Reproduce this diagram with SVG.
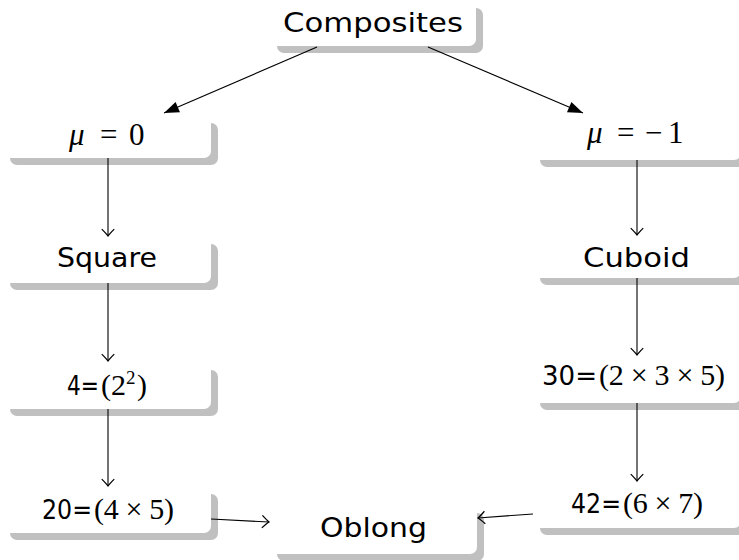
<svg xmlns="http://www.w3.org/2000/svg" width="739" height="560" viewBox="0 0 739 560">
<style>
.sh{fill:#c0c0c0}
.bx{fill:#ffffff}
.t{font-family:"DejaVu Sans",sans-serif;font-size:27px;fill:#000}
.m{font-family:"Liberation Serif","DejaVu Serif",serif;font-size:30px;fill:#000}
.sup{font-family:"Liberation Serif","DejaVu Serif",serif;font-size:19px;fill:#000}
.mu{font-family:"Liberation Serif","DejaVu Serif",serif;font-size:31px;fill:#000}
.e{stroke:#000;stroke-width:1.1;fill:none}
</style>
<defs>
<marker id="tri" markerUnits="userSpaceOnUse" markerWidth="20" markerHeight="20" viewBox="-14 -7 16 14" refX="0" refY="0" orient="auto">
<path d="M-12,-4.5 L0,0 L-12,4.5 Z" fill="#000"/>
</marker>
<marker id="open" markerUnits="userSpaceOnUse" markerWidth="20" markerHeight="20" viewBox="-10 -8 12 16" refX="0" refY="0" orient="auto">
<path d="M-5.5,-5 Q-1.5,-1 0,0 Q-1.5,1 -5.5,5" stroke="#000" stroke-width="1" fill="none"/>
</marker>
</defs>
<g id="composites">
<rect class="sh" x="277" y="8" width="206" height="45" rx="7"/>
<rect class="bx" x="270" y="1" width="206" height="45" rx="7"/>
<text class="t" x="283" y="32" textLength="180" lengthAdjust="spacingAndGlyphs">Composites</text>
</g>
<g id="mu0">
<rect class="sh" x="10" y="123" width="208" height="42" rx="7"/>
<rect class="bx" x="3" y="116" width="208" height="42" rx="7"/>
<text class="mu" y="145"><tspan x="69" font-style="italic">μ</tspan><tspan x="100">=</tspan><tspan x="129">0</tspan></text>
</g>
<g id="mum1">
<rect class="sh" x="540" y="125" width="208" height="42" rx="7"/>
<rect class="bx" x="533" y="118" width="208" height="42" rx="7"/>
<text class="mu" y="143"><tspan x="587" font-style="italic">μ</tspan><tspan x="617">=</tspan><tspan x="645">−</tspan><tspan x="668">1</tspan></text>
</g>
<g id="square">
<rect class="sh" x="10" y="244" width="208" height="46" rx="7"/>
<rect class="bx" x="3" y="237" width="208" height="46" rx="7"/>
<text class="t" x="57" y="267" textLength="100" lengthAdjust="spacingAndGlyphs">Square</text>
</g>
<g id="cuboid">
<rect class="sh" x="540" y="243" width="208" height="42" rx="7"/>
<rect class="bx" x="533" y="236" width="208" height="42" rx="7"/>
<text class="t" x="583" y="267" textLength="107" lengthAdjust="spacingAndGlyphs">Cuboid</text>
</g>
<g id="n4">
<rect class="sh" x="10" y="370" width="208" height="46" rx="7"/>
<rect class="bx" x="3" y="363" width="208" height="46" rx="7"/>
<text y="395"><tspan class="t" x="67" textLength="32" lengthAdjust="spacingAndGlyphs">4=</tspan><tspan class="m" x="101">(2</tspan><tspan class="sup" x="126" y="384">2</tspan><tspan class="m" x="137" y="395">)</tspan></text>
</g>
<g id="n30">
<rect class="sh" x="540" y="363" width="208" height="47" rx="7"/>
<rect class="bx" x="533" y="356" width="208" height="47" rx="7"/>
<text y="385"><tspan class="t" x="542" textLength="55" lengthAdjust="spacingAndGlyphs">30=</tspan><tspan class="m" x="599" textLength="126" lengthAdjust="spacing">(2 × 3 × 5)</tspan></text>
</g>
<g id="n20">
<rect class="sh" x="10" y="494" width="208" height="46" rx="7"/>
<rect class="bx" x="3" y="487" width="208" height="46" rx="7"/>
<text y="519"><tspan class="t" x="42" textLength="50" lengthAdjust="spacingAndGlyphs">20=</tspan><tspan class="m" x="94" textLength="80" lengthAdjust="spacing">(4 × 5)</tspan></text>
</g>
<g id="n42">
<rect class="sh" x="540" y="489" width="208" height="46" rx="7"/>
<rect class="bx" x="533" y="482" width="208" height="46" rx="7"/>
<text y="513"><tspan class="t" x="571" textLength="50" lengthAdjust="spacingAndGlyphs">42=</tspan><tspan class="m" x="623" textLength="80" lengthAdjust="spacing">(6 × 7)</tspan></text>
</g>
<g id="oblong">
<rect class="sh" x="277" y="513" width="207" height="48" rx="7"/>
<rect class="bx" x="270" y="506" width="207" height="48" rx="7"/>
<text class="t" x="320" y="537" textLength="107" lengthAdjust="spacingAndGlyphs">Oblong</text>
</g>
<g id="edges">
<line class="e" x1="317" y1="47" x2="164" y2="113" marker-end="url(#tri)"/>
<line class="e" x1="428" y1="47" x2="583" y2="113" marker-end="url(#tri)"/>
<line class="e" x1="108" y1="158" x2="108" y2="236" marker-end="url(#open)"/>
<line class="e" x1="108" y1="283" x2="108" y2="361" marker-end="url(#open)"/>
<line class="e" x1="108" y1="409" x2="108" y2="486" marker-end="url(#open)"/>
<line class="e" x1="637" y1="160" x2="637" y2="235" marker-end="url(#open)"/>
<line class="e" x1="637" y1="278" x2="637" y2="355" marker-end="url(#open)"/>
<line class="e" x1="637" y1="403" x2="637" y2="481" marker-end="url(#open)"/>
<line class="e" x1="211" y1="519" x2="269" y2="522" marker-end="url(#open)"/>
<line class="e" x1="533" y1="514" x2="478" y2="518" marker-end="url(#open)"/>
</g>
</svg>
